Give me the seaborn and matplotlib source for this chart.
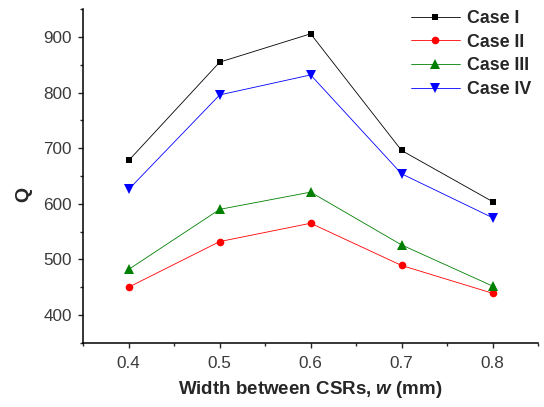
import matplotlib
matplotlib.use("Agg")
import matplotlib.pyplot as plt
import seaborn as sns
import pandas as pd
from matplotlib.ticker import MultipleLocator

width = [0.4, 0.5, 0.6, 0.7, 0.8]
case_1 = [678, 855, 906, 696, 604]
case_2 = [450, 532, 565, 489, 439]
case_3 = [482, 590, 621, 526, 452]
case_4 = [626, 796, 832, 654, 575]
cases = ["Case I", "Case II", "Case III", "Case IV"]

rows = []
for name, vals in zip(cases, [case_1, case_2, case_3, case_4]):
    for w, q in zip(width, vals):
        rows.append({"w": w, "Q": q, "case": name})
df = pd.DataFrame(rows)

sns.set_style("ticks")
plt.rcParams['font.family'] = ['Liberation Sans', 'DejaVu Sans']
plt.rcParams['mathtext.fontset'] = 'custom'
plt.rcParams['mathtext.bf'] = 'Liberation Sans:bold'
if 'mathtext.bfit' in plt.rcParams:
    plt.rcParams['mathtext.bfit'] = 'Liberation Sans:bold:italic'

fig = plt.figure(figsize=(5.44, 4.07), dpi=100)
ax = fig.add_axes([0.153, 0.158, 0.836, 0.819])

palette = {"Case I": "black", "Case II": "red", "Case III": "#008000", "Case IV": "blue"}
markers = {"Case I": "s", "Case II": "o", "Case III": "^", "Case IV": "v"}
sns.lineplot(data=df, x="w", y="Q", hue="case", style="case", palette=palette,
             markers=markers, dashes=False, linewidth=0.6, markersize=5,
             markeredgewidth=0, ax=ax)

ax.set_xlim(0.35, 0.85)
ax.set_ylim(350, 950)
ax.set_xticks(width)
ax.set_yticks([400, 500, 600, 700, 800, 900])
ax.xaxis.set_minor_locator(MultipleLocator(0.05))
ax.yaxis.set_minor_locator(MultipleLocator(50))
ax.tick_params(axis='x', which='major', length=3.5, width=1.0, pad=6, labelsize=12.3, labelcolor='#3a3a3a')
ax.tick_params(axis='y', which='major', length=3.5, width=1.0, pad=4.5, labelsize=12.3, labelcolor='#3a3a3a')
ax.tick_params(which='minor', length=2.2, width=1.0)
sns.despine(ax=ax)
for s in ['left', 'bottom']:
    ax.spines[s].set_linewidth(1.1)
    ax.spines[s].set_color('black')

ax.set_xlabel("Width between CSRs, $\\mathbfit{w}$ (mm)", fontsize=13.5, fontweight='bold', labelpad=6)
ax.set_ylabel("Q", fontsize=14, fontweight='bold')
ax.yaxis.set_label_coords(-0.112, 0.446)

leg = ax.legend(loc='upper right', frameon=False, prop={'weight': 'bold', 'size': 12.8},
                handlelength=2.75, handletextpad=0.4, labelspacing=0.38,
                borderaxespad=0.0, bbox_to_anchor=(1.0, 1.02))

# triangles look smaller than squares at the same size
for ln in list(ax.lines) + list(leg.get_lines()):
    if ln.get_marker() in ('^', 'v'):
        ln.set_markersize(6.5)
    elif ln.get_marker() == 'o':
        ln.set_markersize(5.5)

fig.savefig("out.png", dpi=100)
